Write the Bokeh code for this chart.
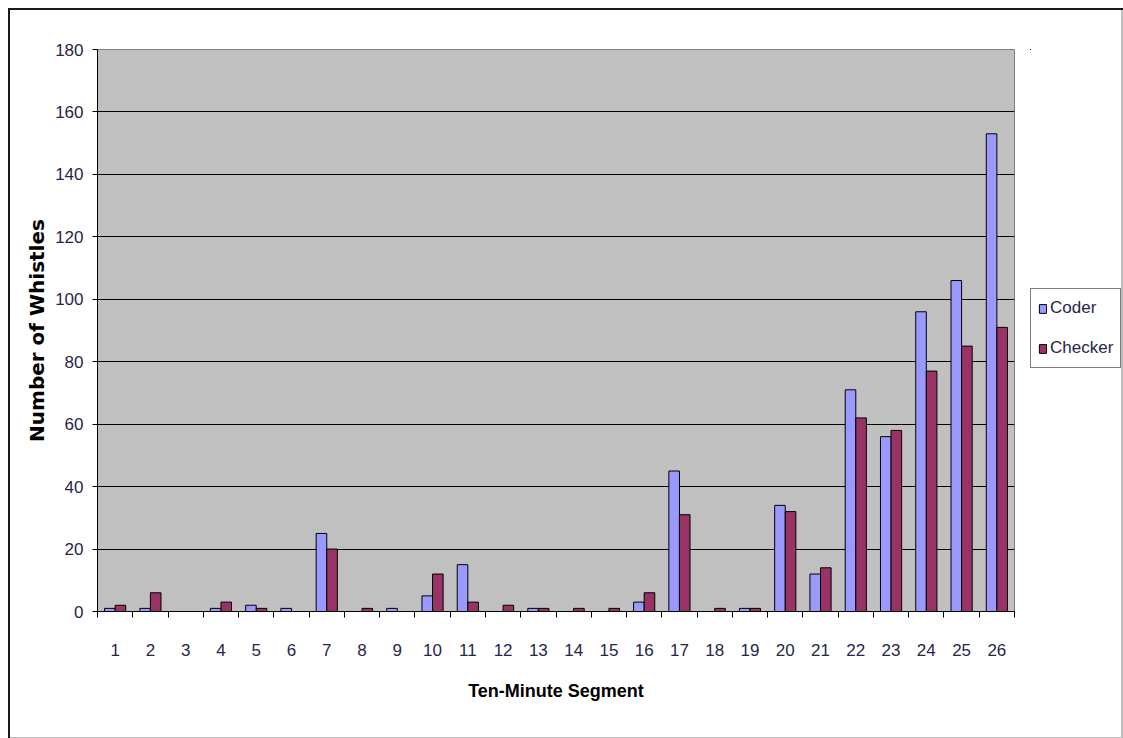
from bokeh.plotting import figure
from bokeh.layouts import row
from bokeh.models import ColumnDataSource, FixedTicker, Legend, LegendItem, Range1d
from bokeh.transform import dodge
from bokeh.embed import file_html
from bokeh.resources import INLINE

segments = [str(i) for i in range(1, 27)]
coder = [1, 1, 0, 1, 2, 1, 25, 0, 1, 5, 15, 0, 1, 0, 0, 3, 45, 0, 1, 34, 12, 71, 56, 96, 106, 153]
checker = [2, 6, 0, 3, 1, 0, 20, 1, 0, 12, 3, 2, 1, 1, 1, 6, 31, 1, 1, 32, 14, 62, 58, 77, 85, 91]
series = ["Coder", "Checker"]
colors = ["#9999ff", "#993366"]
y_ticks = [0, 20, 40, 60, 80, 100, 120, 140, 160, 180]

pos = list(range(1, len(segments) + 1))
src = ColumnDataSource(dict(x=pos, seg=segments, coder=coder, checker=checker))

FONT = "Liberation Sans"
TXT = "#26264a"

p = figure(width=1022, height=730, output_backend="svg", toolbar_location=None,
           x_range=Range1d(0.5, len(segments) + 0.5), y_range=Range1d(0, 180),
           min_border_left=89, min_border_top=41, min_border_right=16, min_border_bottom=127)
p.border_fill_color = None
p.background_fill_color = "#c0c0c0"
p.outline_line_color = "#808080"
p.outline_line_width = 1

r1 = p.vbar(x=dodge("x", -0.15, range=p.x_range), top="coder", width=0.3, source=src,
            fill_color=colors[0], line_color="#000000", line_width=1)
r2 = p.vbar(x=dodge("x", 0.15, range=p.x_range), top="checker", width=0.3, source=src,
            fill_color=colors[1], line_color="#000000", line_width=1)

# grid
p.xgrid.grid_line_color = None
p.ygrid.grid_line_color = "#000000"
p.ygrid.grid_line_width = 1
p.ygrid.ticker = FixedTicker(ticks=y_ticks)

# y axis
p.yaxis.ticker = FixedTicker(ticks=y_ticks)
p.yaxis.axis_line_color = "#000000"
p.yaxis.major_tick_line_color = "#000000"
p.yaxis.major_tick_out = 5
p.yaxis.major_tick_in = 0
p.yaxis.minor_tick_line_color = None
p.yaxis.major_label_text_font = FONT
p.yaxis.major_label_text_font_size = "17px"
p.yaxis.major_label_text_color = TXT
p.yaxis.major_label_standoff = 9
p.yaxis.axis_label = "Number of Whistles"
p.yaxis.axis_label_text_font = "DejaVu Sans"
p.yaxis.axis_label_text_font_style = "bold"
p.yaxis.axis_label_text_font_size = "20px"
p.yaxis.axis_label_text_color = "#000000"
p.yaxis.axis_label_standoff = 3

# x axis
p.xaxis.ticker = FixedTicker(ticks=pos, minor_ticks=[i + 0.5 for i in range(0, len(segments) + 1)])
p.xaxis.major_label_overrides = {i: s for i, s in zip(pos, segments)}
p.xaxis.axis_line_color = "#000000"
p.xaxis.major_tick_line_color = None
p.xaxis.major_tick_out = 6
p.xaxis.major_tick_in = 0
p.xaxis.minor_tick_line_color = "#000000"
p.xaxis.minor_tick_out = 6
p.xaxis.minor_tick_in = 0
p.xaxis.major_label_text_font = FONT
p.xaxis.major_label_text_font_size = "17px"
p.xaxis.major_label_text_color = TXT
p.xaxis.major_label_standoff = 26
p.xaxis.axis_label = "Ten-Minute Segment"
p.xaxis.axis_label_text_font = FONT
p.xaxis.axis_label_text_font_style = "bold"
p.xaxis.axis_label_text_font_size = "18px"
p.xaxis.axis_label_text_color = "#000000"
p.xaxis.axis_label_standoff = 22

# legend panel (separate small figure to the right of the plot area);
# proxy bars use the same data but lie entirely outside this panel's ranges
lg = figure(width=93, height=730, output_backend="svg", toolbar_location=None,
            x_range=Range1d(100, 101), y_range=Range1d(-1001, -1000),
            min_border_left=0, min_border_right=0, min_border_top=0, min_border_bottom=0)
lg.axis.visible = False
lg.grid.visible = False
lg.outline_line_color = None
lg.background_fill_color = None
lg.border_fill_color = None
l1 = lg.vbar(x="x", top="coder", width=0.3, source=src, fill_color=colors[0], line_color="#000000")
l2 = lg.vbar(x="x", top="checker", width=0.3, source=src, fill_color=colors[1], line_color="#000000")

legend = Legend(items=[LegendItem(label=series[0], renderers=[l1], index=0),
                       LegendItem(label=series[1], renderers=[l2], index=0)],
                location=(0, 243))
legend.border_line_color = "#000000"
legend.border_line_width = 1
legend.background_fill_color = "#ffffff"
legend.label_text_font = FONT
legend.label_text_font_size = "17px"
legend.label_text_color = TXT
legend.glyph_width = 9
legend.glyph_height = 11
legend.label_standoff = 3
legend.label_height = 24
legend.spacing = 16
legend.padding = 7
legend.margin = 0
lg.add_layout(legend, "center")

layout = row(p, lg, spacing=0)
layout.margin = (8, 0, 0, 8)
layout.styles = {"box-shadow": "inset 2px 2px 0 0 #1a1a1a, inset -2px -1px 0 0 #bdbdbd"}

open("out.html", "w").write(file_html(layout, INLINE))
